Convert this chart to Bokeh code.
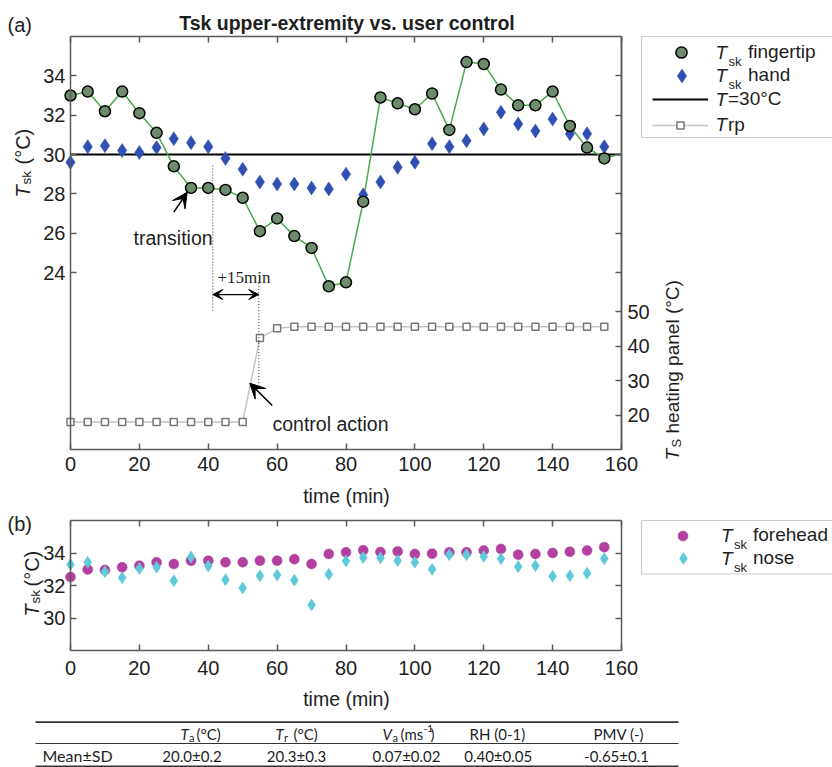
import numpy as np
from bokeh.plotting import figure
from bokeh.models import (Range1d, LinearAxis, FixedTicker, Label, Arrow, VeeHead,
                          Legend, LegendItem, BoxAnnotation, ColumnDataSource)
from bokeh.embed import file_html
from bokeh.resources import INLINE

# ---------------- data ----------------
time_min = [0, 5, 10, 15, 20, 25, 30, 35, 40, 45, 50, 55, 60, 65, 70, 75,
            80, 85, 90, 95, 100, 105, 110, 115, 120, 125, 130, 135, 140, 145, 150, 155]
fingertip = [33.0, 33.2, 32.2, 33.2, 32.1, 31.1, 29.4, 28.3, 28.3, 28.2, 27.8, 26.1,
             26.75, 25.85, 25.25, 23.3, 23.5, 27.6, 32.9, 32.6, 32.3, 33.1, 31.25, 34.7,
             34.6, 33.3, 32.5, 32.5, 33.2, 31.45, 30.35, 29.8]
hand = [29.6, 30.4, 30.45, 30.2, 30.1, 30.35, 30.8, 30.6, 30.4, 29.8, 29.25, 28.6,
        28.5, 28.5, 28.3, 28.25, 29.0, 27.95, 28.6, 29.35, 29.6, 30.55, 30.4, 30.7,
        31.3, 32.15, 31.55, 31.2, 31.8, 31.05, 31.05, 30.4]
trp = [18, 18, 18, 18, 18, 18, 18, 18, 18, 18, 18, 42.4,
       45.2, 45.7, 45.7, 45.7, 45.7, 45.7, 45.7, 45.7, 45.7, 45.7, 45.7, 45.7,
       45.7, 45.7, 45.7, 45.7, 45.7, 45.7, 45.7, 45.7]
fingertip_line_t = time_min + [160]
fingertip_line = fingertip + [30.05]
threshold = 30.0

forehead = [32.52, 32.99, 32.95, 33.12, 33.22, 33.43, 33.32, 33.53, 33.53, 33.43, 33.43,
            33.53, 33.53, 33.62, 33.32, 33.94, 34.04, 34.17, 34.06, 34.1, 33.94, 33.96,
            34.04, 34.04, 34.15, 34.25, 33.9, 33.94, 34.0, 34.08, 34.15, 34.36]
nose = [33.3, 33.43, 32.84, 32.48, 33.05, 33.13, 32.29, 33.75, 33.2, 32.36, 31.85,
        32.6, 32.65, 32.33, 30.8, 32.69, 33.51, 33.72, 33.7, 33.53, 33.43, 33.0,
        33.9, 33.9, 33.79, 33.64, 33.16, 33.22, 32.57, 32.6, 32.75, 33.64]

x_ticks = [0, 20, 40, 60, 80, 100, 120, 140, 160]
tsk_ticks_a = [24, 26, 28, 30, 32, 34]
ts_ticks = [20, 30, 40, 50]
tsk_ticks_b = [30, 32, 34]
X_LIM = (0, 160)
A_LIM = (15, 36)
TS_LIM = (10, 130)
B_LIM = (28, 36)

table_row_label = "Mean±SD"
table_values = ["20.0±0.2", "20.3±0.3", "0.07±0.02", "0.40±0.05", "-0.65±0.1"]

# ---------------- layout (pixels) & style ----------------
W, H = 832, 767
A_LEFT, A_RIGHT, A_TOP, A_BOTTOM = 70, 621, 36, 449
B_TOP, B_BOTTOM = 520, 650

SANS = "Liberation Sans"
TXT = "#1e1e1e"
AX = "#5a5a5a"
GREEN = "#4aa84a"
FINGER = "#6d8c6d"
HAND = "#2f4fb3"
FOREHEAD = "#b2409f"
NOSE = "#5ec9d8"
ROT = np.pi / 2


def lin(va, pa, vb, pb, p):
    return va + (p - pa) * (vb - va) / (pb - pa)


x_rng = Range1d(lin(X_LIM[0], A_LEFT, X_LIM[1], A_RIGHT, 0),
                lin(X_LIM[0], A_LEFT, X_LIM[1], A_RIGHT, W))
ya_rng = Range1d(lin(A_LIM[0], A_BOTTOM, A_LIM[1], A_TOP, H),
                 lin(A_LIM[0], A_BOTTOM, A_LIM[1], A_TOP, 0))
yts_rng = Range1d(lin(TS_LIM[0], A_BOTTOM, TS_LIM[1], A_TOP, H),
                  lin(TS_LIM[0], A_BOTTOM, TS_LIM[1], A_TOP, 0))
yb_rng = Range1d(lin(B_LIM[0], B_BOTTOM, B_LIM[1], B_TOP, H),
                 lin(B_LIM[0], B_BOTTOM, B_LIM[1], B_TOP, 0))

p = figure(width=W, height=H, x_range=x_rng, y_range=ya_rng,
           output_backend="svg", toolbar_location=None, min_border=0,
           x_axis_location=None, y_axis_location=None)
p.extra_y_ranges = {"ts": yts_rng, "b": yb_rng, "py": Range1d(H, 0)}
p.extra_x_ranges = {"px": Range1d(0, W)}
p.grid.visible = False
p.outline_line_color = None


def add_axis(place, ticks, loc, bounds, show=True, standoff=5, **kw):
    ax = LinearAxis(fixed_location=loc, bounds=bounds, **kw)
    ax.ticker = FixedTicker(ticks=ticks)
    ax.minor_tick_line_color = None
    ax.major_tick_in = 6
    ax.major_tick_out = 0
    ax.axis_line_color = AX
    ax.axis_line_width = 1.5
    ax.major_tick_line_color = AX
    ax.major_tick_line_width = 1.5
    ax.major_label_text_font = SANS
    if show:
        ax.major_label_text_font_size = "20px"
        ax.major_label_text_color = TXT
        ax.major_label_standoff = standoff
    else:
        ax.major_label_text_font_size = "1px"
        ax.major_label_text_color = None
        ax.major_label_standoff = 0
    p.add_layout(ax, place)


def txt(px, py, text, size=19.5, style="normal", align="left",
        baseline="alphabetic", angle=0.0, font=SANS, color=TXT):
    p.add_layout(Label(x=px, y=H - py, x_units="screen", y_units="screen",
                       text=text, text_font=font, text_font_size=f"{size}px",
                       text_font_style=style, text_align=align,
                       text_baseline=baseline, angle=angle, text_color=color))


def one_legend(renderers, label, cx, cy, gw, gh, label_x, lh=None):
    lh = gh if lh is None else lh
    left = int(round(cx - gw / 2))
    standoff = int(round(label_x - left - gw))
    hh = max(gh, lh)
    y0 = cy - gh / 2
    leg = Legend(items=[LegendItem(label=label, renderers=renderers)],
                 location=(left, H - (y0 + hh)),
                 glyph_width=gw, glyph_height=gh, label_height=lh, label_width=10,
                 label_standoff=standoff, padding=0, margin=0, spacing=0,
                 border_line_color=None, background_fill_color=None,
                 label_text_font=SANS, label_text_font_size="19px",
                 label_text_color=TXT)
    p.add_layout(leg)


def box(left, right, top, bottom):
    p.add_layout(BoxAnnotation(left=left, right=right, top=H - top, bottom=H - bottom,
                               left_units="screen", right_units="screen",
                               top_units="screen", bottom_units="screen",
                               fill_alpha=0, line_color=AX, line_width=1.2))


# ---------------- (a) axes ----------------
add_axis("below", x_ticks, A_LIM[0], X_LIM, standoff=7)
add_axis("above", x_ticks, A_LIM[1], X_LIM, show=False)
add_axis("left", tsk_ticks_a, X_LIM[0], A_LIM, standoff=5)
add_axis("right", tsk_ticks_a, X_LIM[1], A_LIM, show=False)
add_axis("right", ts_ticks, X_LIM[1], TS_LIM, standoff=6, y_range_name="ts")

# ---------------- (a) data ----------------
src1 = ColumnDataSource(dict(t=time_min, finger=fingertip, hand=hand, trp=trp))
r_thr = p.segment(x0=[X_LIM[0]], y0=[threshold], x1=[X_LIM[1]], y1=[threshold],
                  line_color="black", line_width=2)
r_trp_line = p.line("t", "trp", source=src1, y_range_name="ts",
                    line_color="#c4c4c4", line_width=1.5)
r_trp_pts = p.scatter("t", "trp", source=src1, y_range_name="ts", marker="square",
                      size=7, fill_color="white", line_color="#777777", line_width=1.5)
p.line(fingertip_line_t, fingertip_line, line_color=GREEN, line_width=1.5)
r_hand = p.scatter("t", "hand", source=src1, marker="diamond", size=14,
                   fill_color=HAND, line_color=HAND, line_width=0.5)
r_finger = p.scatter("t", "finger", source=src1, marker="circle", size=11,
                     fill_color=FINGER, line_color="black", line_width=1.5)

# annotations (in panel (a) data units)
DOT = "#333333"
p.add_layout(Arrow(x_start=41.32, y_start=29.44, x_end=41.32, y_end=22.07, end=None,
                   line_dash="1 2", line_width=1, line_color=DOT))
p.add_layout(Arrow(x_start=54.68, y_start=23.46, x_end=54.68, y_end=18.26, end=None,
                   line_dash="1 2", line_width=1, line_color=DOT))
p.add_layout(Arrow(x_start=41.32, y_start=22.88, x_end=54.68, y_end=22.88,
                   start=VeeHead(size=10, fill_color="black", line_color="black"),
                   end=VeeHead(size=10, fill_color="black", line_color="black"),
                   line_width=1.2, line_color="black"))
p.add_layout(Arrow(x_start=30.0, y_start=27.07, x_end=33.89, y_end=28.08,
                   end=VeeHead(size=15, fill_color="black", line_color="black"),
                   line_width=1.5, line_color="black"))
p.add_layout(Arrow(x_start=58.57, y_start=17.24, x_end=52.06, y_end=18.37,
                   end=VeeHead(size=15, fill_color="black", line_color="black"),
                   line_width=1.5, line_color="black"))

# texts (a)
txt(7, 24.5, "(a)", size=20)
txt(346.5, 22, "Tsk upper-extremity vs. user control", style="bold", align="center")
txt(22, 197, "T", size=20, style="italic", angle=ROT)
txt(26, 184, "sk", size=13.5, angle=ROT)
txt(22, 164, "(°C)", size=20, angle=ROT)
txt(672, 460, "T", size=19, style="italic", angle=ROT)
txt(676, 447, "S", size=13, angle=ROT)
txt(672, 433, "heating panel (°C)", size=19, angle=ROT)
txt(346, 495, "time (min)", align="center")
txt(133, 237, "transition")
txt(217, 277, "+15min", size=17, font="Liberation Serif")
txt(272, 423, "control action")

# legend (a)
SUB_DY = 8.5
box(641, 840, 36, 137)
one_legend([r_finger], "fingertip", 681, 52.3, 28, 28, 748)
one_legend([r_hand], "hand", 681, 75.3, 35, 35, 748)
one_legend([r_thr], "=30°C", 680, 99, 56, 22, 728)
one_legend([r_trp_line, r_trp_pts], "rp", 680, 123.3, 56, 18, 728, lh=22)
for cy in (52.3, 75.3):
    txt(715, cy, "T", size=19, style="italic", baseline="middle")
    txt(728, cy + SUB_DY, "sk", size=13)
txt(715, 99, "T", size=19, style="italic", baseline="middle")
txt(715, 124.3, "T", size=19, style="italic", baseline="middle")

# ---------------- (b) ----------------
add_axis("below", x_ticks, B_LIM[0], X_LIM, standoff=10, y_range_name="b")
add_axis("above", x_ticks, B_LIM[1], X_LIM, show=False, y_range_name="b")
add_axis("left", tsk_ticks_b, X_LIM[0], B_LIM, standoff=5, y_range_name="b")
add_axis("right", tsk_ticks_b, X_LIM[1], B_LIM, show=False, y_range_name="b")

src2 = ColumnDataSource(dict(t=time_min, forehead=forehead, nose=nose))
r_fore = p.scatter("t", "forehead", source=src2, y_range_name="b", marker="circle",
                   size=10, fill_color=FOREHEAD, line_color=FOREHEAD, line_width=0.5)
r_nose = p.scatter("t", "nose", source=src2, y_range_name="b", marker="diamond",
                   size=12, fill_color=NOSE, line_color=NOSE, line_width=0.5)

txt(7, 523.5, "(b)", size=20)
txt(31, 616, "T", size=20, style="italic", angle=ROT)
txt(35, 603, "sk", size=13.5, angle=ROT)
txt(31, 586, "(°C)", size=20, angle=ROT)
txt(346, 698, "time (min)", align="center")

box(641, 840, 520, 573.5)
one_legend([r_fore], "forehead", 682.7, 535, 25, 25, 753)
one_legend([r_nose], "nose", 682.7, 558, 30, 30, 753)
for cy in (535, 558):
    txt(720.5, cy, "T", size=19, style="italic", baseline="middle")
    txt(733.5, cy + SUB_DY, "sk", size=13)

# ---------------- table ----------------
TB = "Lato"
rule_y = [721.7, 743.0, 766.0]
p.segment(x0=[35, 35, 35], y0=rule_y, x1=[678, 678, 678], y1=rule_y,
          x_range_name="px", y_range_name="py",
          line_color="#333333", line_width=[1.8, 1.2, 1.8])


def tl(x, y, text, size=15, style="normal", align="left"):
    txt(x, y, text, size=size, style=style, align=align, baseline="middle", font=TB)


HY, RY = 733, 755
tl(180, HY, "T", style="italic"); tl(188.5, HY + 3.5, "a", size=11); tl(196, HY, "(°C)")
tl(275, HY, "T", style="italic"); tl(283.5, HY + 3.5, "r", size=11); tl(293, HY, "(°C)")
tl(382, HY, "V", style="italic"); tl(392, HY + 3.5, "a", size=11); tl(400, HY, "(ms")
tl(423, HY - 5, "-1", size=10); tl(430, HY, ")")
tl(469, HY, "RH (0-1)")
tl(593, HY, "PMV (-)")
tl(42, RY, table_row_label, size=16)
for cx, v in zip([191.5, 296, 406, 497.7, 616], table_values):
    tl(cx, RY, v, align="center")

with open("out.html", "w") as f:
    f.write(file_html(p, INLINE, "chart"))
